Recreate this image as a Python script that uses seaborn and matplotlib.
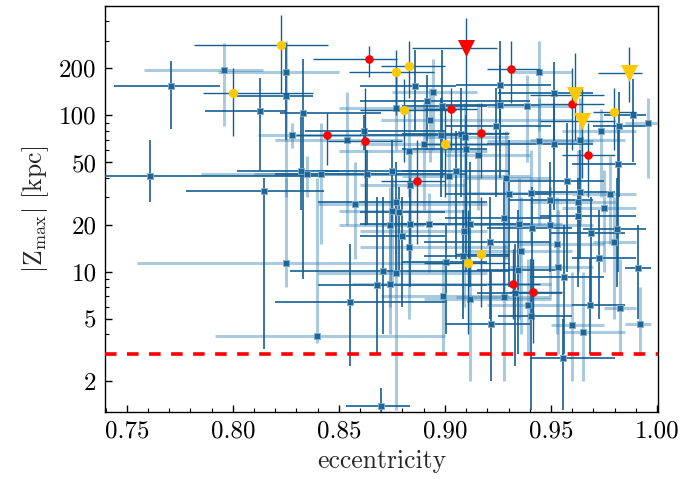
import numpy as np
import pandas as pd
import matplotlib
matplotlib.use("Agg")
import matplotlib.pyplot as plt
import matplotlib.ticker as mticker
import seaborn as sns

# ---------------- data ----------------
# main sample: eccentricity, |Zmax|, ecc lower/upper bound, Z lower/upper bound, light(1)/dark(0) error style
ecc = [0.761, 0.771, 0.796, 0.825, 0.825, 0.813, 0.833, 0.828, 0.862, 0.854,
       0.832, 0.835, 0.8415, 0.8632, 0.8146, 0.8575, 0.825, 0.8708, 0.868, 0.874,
       0.8769, 0.8552, 0.8396, 0.8698, 0.8858, 0.8943, 0.877, 0.8915, 0.8986, 0.893,
       0.898, 0.890, 0.883, 0.875, 0.905, 0.902, 0.8835, 0.877, 0.875, 0.8783,
       0.874, 0.8835, 0.8925, 0.880, 0.883, 0.9005, 0.899, 0.9085, 0.9118, 0.9118,
       0.909, 0.9075, 0.9095, 0.910, 0.9156, 0.926, 0.9443, 0.9514, 0.926, 0.9387,
       0.924, 0.9443, 0.9514, 0.9637, 0.9736, 0.982, 0.9887, 0.9958, 0.9816, 0.9575,
       0.9288, 0.930, 0.9406, 0.9496, 0.9637, 0.978, 0.963, 0.963, 0.975, 0.9689,
       0.9496, 0.928, 0.935, 0.941, 0.953, 0.9212, 0.9358, 0.9344, 0.9533, 0.956,
       0.928, 0.933, 0.939, 0.9406, 0.9217, 0.9557, 0.960, 0.965, 0.9684, 0.9726,
       0.9797, 0.981, 0.9825, 0.991, 0.992]
zmax = [41, 153, 194, 189, 132, 106, 104, 74.5, 79, 70,
        44, 42, 42, 42, 33, 27.3, 11.4, 10.1, 8.25, 8.4,
        9.85, 6.42, 3.88, 1.38, 153, 140, 112, 123, 115, 93,
        74.4, 66, 59.6, 44, 44, 41, 36, 28, 24.5, 24,
        20, 20.3, 20.3, 17, 14.5, 11.6, 7.0, 12.6, 6.7, 20.3,
        18.1, 76, 73, 60.6, 55.4, 156, 189, 138, 117, 114,
        85, 69, 66, 70, 79, 85, 101, 90, 49, 38,
        40, 31.6, 32, 28.9, 32.6, 31.6, 28, 22.8, 25.7, 17.7,
        20, 22.2, 20.3, 19.1, 15, 15.6, 13.6, 10.3, 10.8, 9.2,
        6.9, 7.3, 6.15, 5.2, 4.64, 2.8, 4.57, 4.1, 6.15, 12.3,
        15.4, 18.9, 5.89, 10.6, 4.64]
ecc_lo = [0.730, 0.744, 0.758, 0.793, 0.802, 0.787, 0.822, 0.812, 0.834, 0.820,
          0.802, 0.785, 0.810, 0.820, 0.778, 0.840, 0.755, 0.827, 0.840, 0.856,
          0.840, 0.820, 0.7915, 0.8533, 0.860, 0.875, 0.850, 0.860, 0.880, 0.870,
          0.860, 0.860, 0.850, 0.840, 0.880, 0.880, 0.860, 0.840, 0.850, 0.860,
          0.850, 0.860, 0.870, 0.860, 0.860, 0.880, 0.870, 0.890, 0.890, 0.880,
          0.860, 0.880, 0.890, 0.880, 0.900, 0.905, 0.930, 0.925, 0.900, 0.920,
          0.900, 0.920, 0.920, 0.940, 0.955, 0.970, 0.975, 0.985, 0.960, 0.930,
          0.910, 0.900, 0.910, 0.930, 0.940, 0.960, 0.940, 0.945, 0.955, 0.950,
          0.930, 0.900, 0.910, 0.920, 0.935, 0.890, 0.910, 0.915, 0.930, 0.940,
          0.905, 0.915, 0.920, 0.925, 0.900, 0.940, 0.950, 0.955, 0.960, 0.960,
          0.970, 0.965, 0.975, 0.985, 0.985]
ecc_hi = [0.842, 0.794, 0.814, 0.850, 0.838, 0.825, 0.870, 0.895, 0.900, 0.880,
          0.850, 0.880, 0.900, 0.910, 0.843, 0.920, 0.900, 0.930, 0.920, 0.950,
          0.920, 0.900, 0.900, 0.8835, 0.905, 0.915, 0.910, 0.940, 0.920, 0.960,
          0.910, 0.930, 0.920, 0.900, 0.930, 0.940, 0.910, 0.920, 0.910, 0.900,
          0.890, 0.900, 0.930, 0.900, 0.930, 0.920, 0.930, 0.930, 0.950, 0.940,
          0.920, 0.930, 0.930, 0.920, 0.940, 0.950, 0.960, 0.970, 0.945, 0.960,
          0.950, 0.970, 0.970, 0.985, 0.990, 0.995, 0.995, 1.000, 0.990, 0.975,
          0.950, 0.950, 0.960, 0.970, 0.980, 0.990, 0.980, 0.990, 0.990, 0.985,
          0.970, 0.950, 0.955, 0.960, 0.975, 0.950, 0.960, 0.955, 0.970, 0.975,
          0.950, 0.955, 0.960, 0.960, 0.940, 0.980, 0.975, 0.985, 0.985, 0.990,
          0.990, 0.995, 0.990, 0.997, 0.997]
z_lo = [28, 82, 86, 30, 70, 44, 9, 62, 60, 20,
        25, 30, 15, 20, 3.2, 12, 8, 4, 3, 4,
        1.3, 2.5, 3.5, 1.2, 80, 60, 60, 60, 40, 50,
        30, 25, 30, 20, 12, 20, 12, 10, 8, 10,
        6, 8, 10, 6, 5, 4, 3, 5, 2, 8,
        6, 30, 20, 10, 25, 70, 80, 60, 40, 50,
        30, 20, 25, 20, 30, 30, 50, 40, 10, 10,
        12, 8, 15, 10, 12, 15, 10, 8, 10, 6,
        7, 7, 5, 5, 4, 5, 4, 3, 3, 3,
        2, 2.5, 3, 1.3, 2, 1.3, 2, 2, 3, 5,
        5, 8, 3, 5, 3]
z_hi = [70, 222, 290, 300, 290, 174, 230, 90, 100, 140,
        100, 55, 90, 60, 40, 50, 40, 30, 30, 25,
        30, 15, 40, 1.8, 260, 230, 200, 180, 260, 150,
        130, 120, 110, 70, 80, 70, 60, 50, 40, 35,
        35, 40, 32, 30, 25, 20, 12, 25, 12, 50,
        40, 150, 120, 100, 120, 300, 300, 220, 210, 180,
        150, 130, 120, 130, 110, 140, 170, 130, 90, 90,
        80, 70, 60, 50, 60, 55, 60, 40, 45, 30,
        35, 40, 40, 35, 30, 30, 30, 25, 25, 20,
        15, 15, 12, 12, 10, 5, 10, 10, 12, 25,
        30, 40, 12, 20, 8]
light = [0, 0, 1, 1, 0, 0, 0, 1, 0, 1,
         0, 1, 1, 0, 0, 1, 1, 0, 0, 1,
         1, 0, 1, 0, 0, 1, 1, 0, 0, 1,
         0, 1, 1, 0, 0, 1, 1, 0, 1, 0,
         1, 0, 1, 0, 1, 0, 1, 0, 1, 0,
         1, 0, 1, 0, 1, 0, 1, 0, 0, 1,
         0, 1, 0, 1, 1, 0, 0, 1, 0, 0,
         1, 0, 1, 0, 0, 1, 1, 0, 1, 0,
         1, 0, 1, 0, 1, 0, 1, 0, 1, 0,
         1, 0, 1, 0, 0, 0, 1, 1, 0, 0,
         1, 0, 1, 0, 1]

# highlighted objects: yellow circles
yc_ecc = [0.8226, 0.800, 0.877, 0.883, 0.8807, 0.900, 0.9797, 0.917, 0.911]
yc_z = [281, 138, 189, 206, 107.6, 66, 104.5, 13.0, 11.4]
yc_elo = [0.7816, 0.786, 0.855, 0.870, 0.860, 0.890, 0.970, 0.905, 0.890]
yc_ehi = [0.8448, 0.838, 0.895, 0.900, 0.905, 0.920, 0.990, 0.930, 0.930]
yc_zlo = [138, 74, 100, 130, 50, 30, 60, 6, 4]
yc_zhi = [437, 200, 260, 300, 170, 110, 150, 30, 25]
# yellow triangles
yt_ecc = [0.9613, 0.9646, 0.987]
yt_z = [134, 91.5, 186]
yt_elo = [0.940, 0.945, 0.972]
yt_ehi = [0.975, 0.980, 0.993]
yt_zlo = [70, 40, 121]
yt_zhi = [250, 150, 273]
# red triangle
rt_ecc = [0.910]
rt_z = [269]
rt_elo = [0.8844]
rt_ehi = [0.9245]
rt_zlo = [20]
rt_zhi = [419]
# red circles
rc_ecc = [0.864, 0.8443, 0.8623, 0.931, 0.9028, 0.917, 0.960, 0.9675, 0.887, 0.932, 0.9415]
rc_z = [228, 74.5, 69, 197, 109, 76.7, 117.6, 55.4, 38, 8.38, 7.4]
rc_elo = [0.8377, 0.830, 0.845, 0.920, 0.890, 0.905, 0.945, 0.955, 0.870, 0.920, 0.930]
rc_ehi = [0.8774, 0.860, 0.880, 0.945, 0.915, 0.930, 0.975, 0.980, 0.900, 0.945, 0.955]
rc_zlo = [175, 48, 20, 120, 60, 40, 60, 30, 15, 5, 3.5]
rc_zhi = [277, 103, 150, 300, 150, 120, 200, 90, 70, 14, 12]

z_limit = 3.0

# ---------------- style ----------------
sns.set_theme(style="ticks")
plt.rcParams.update({
    "font.family": ["cmr10", "DejaVu Serif"],
    "mathtext.fontset": "cm",
    "axes.formatter.use_mathtext": True,
    "axes.unicode_minus": False,
    "axes.edgecolor": "black",
    "axes.linewidth": 1.0,
    "xtick.direction": "in",
    "ytick.direction": "in",
    "xtick.color": "black",
    "ytick.color": "black",
})

DARK = "#155f93"
LIGHT = "#2b7bb0"
MARK = "#1f6596"

df = pd.DataFrame(dict(ecc=ecc, z=zmax, elo=ecc_lo, ehi=ecc_hi, zlo=z_lo, zhi=z_hi, light=light))

fig = plt.figure(figsize=(6.93, 4.79), dpi=100)
ax = fig.add_axes([105 / 693, 1 - 412 / 479, 553 / 693, 406 / 479])

def ebar(ax, x, y, xl, xh, yl, yh, **kw):
    x = np.asarray(x); y = np.asarray(y)
    xerr = [x - np.asarray(xl), np.asarray(xh) - x]
    yerr = [y - np.asarray(yl), np.asarray(yh) - y]
    ax.errorbar(x, y, xerr=xerr, yerr=yerr, fmt="none", capsize=0, **kw)

for flag, kw in [(1, dict(color=LIGHT, lw=2.2, alpha=0.4, zorder=2)),
                 (0, dict(color=DARK, lw=1.2, alpha=1.0, zorder=3))]:
    sub = df[df.light == flag]
    ebar(ax, sub.ecc, sub.z, sub.elo, sub.ehi, sub.zlo, sub.zhi, **kw)

sns.scatterplot(data=df, x="ecc", y="z", marker="s", s=22, color=MARK,
                edgecolor="#7fb0d3", linewidth=0.6, ax=ax, zorder=4, legend=False)

# highlighted objects
ebar(ax, yc_ecc, yc_z, yc_elo, yc_ehi, yc_zlo, yc_zhi, color=DARK, lw=1.0, zorder=5)
ebar(ax, yt_ecc, yt_z, yt_elo, yt_ehi, yt_zlo, yt_zhi, color=DARK, lw=1.0, zorder=5)
ebar(ax, rt_ecc, rt_z, rt_elo, rt_ehi, rt_zlo, rt_zhi, color=DARK, lw=1.0, zorder=5)
ebar(ax, rc_ecc, rc_z, rc_elo, rc_ehi, rc_zlo, rc_zhi, color=DARK, lw=1.0, zorder=5)

sns.scatterplot(x=yc_ecc, y=yc_z, marker="o", s=45, color="#ffc800", linewidth=0, ax=ax, zorder=6)
sns.scatterplot(x=rc_ecc, y=rc_z, marker="o", s=38, color="#ff0000", linewidth=0, ax=ax, zorder=6)
sns.scatterplot(x=yt_ecc, y=yt_z, marker="v", s=150, color="#ffc800", linewidth=0, ax=ax, zorder=6)
sns.scatterplot(x=rt_ecc, y=rt_z, marker="v", s=150, color="#ff0000", linewidth=0, ax=ax, zorder=6)

ax.axhline(z_limit, color="#ff0000", lw=2.6, ls=(0, (3.2, 2.9)), zorder=7)

ax.set_yscale("log")
ax.set_xlim(0.7397, 1.0005)
ax.set_ylim(1.27, 500)

ax.xaxis.set_major_locator(mticker.MultipleLocator(0.05))
ax.xaxis.set_minor_locator(mticker.MultipleLocator(0.01))
ax.xaxis.set_major_formatter(mticker.FormatStrFormatter("%.2f"))
ax.yaxis.set_major_locator(mticker.FixedLocator([2, 5, 10, 20, 50, 100, 200]))
ax.yaxis.set_major_formatter(mticker.FormatStrFormatter("%d"))
ax.yaxis.set_minor_locator(mticker.LogLocator(base=10, subs=np.arange(1, 10)))
ax.yaxis.set_minor_formatter(mticker.NullFormatter())

ax.tick_params(which="major", length=5, width=1.0, labelsize=18, top=False, right=False, pad=6)
ax.tick_params(which="minor", length=2.8, width=0.8, top=False, right=False)

ax.set_xlabel("eccentricity", fontsize=18.5, labelpad=5)
ax.set_ylabel(r"$|\mathrm{Z}_{\mathrm{max}}|$ [kpc]", fontsize=18.5, labelpad=6)

for s in ax.spines.values():
    s.set_visible(True)
    s.set_color("black")

fig.savefig("out.png", dpi=100)
